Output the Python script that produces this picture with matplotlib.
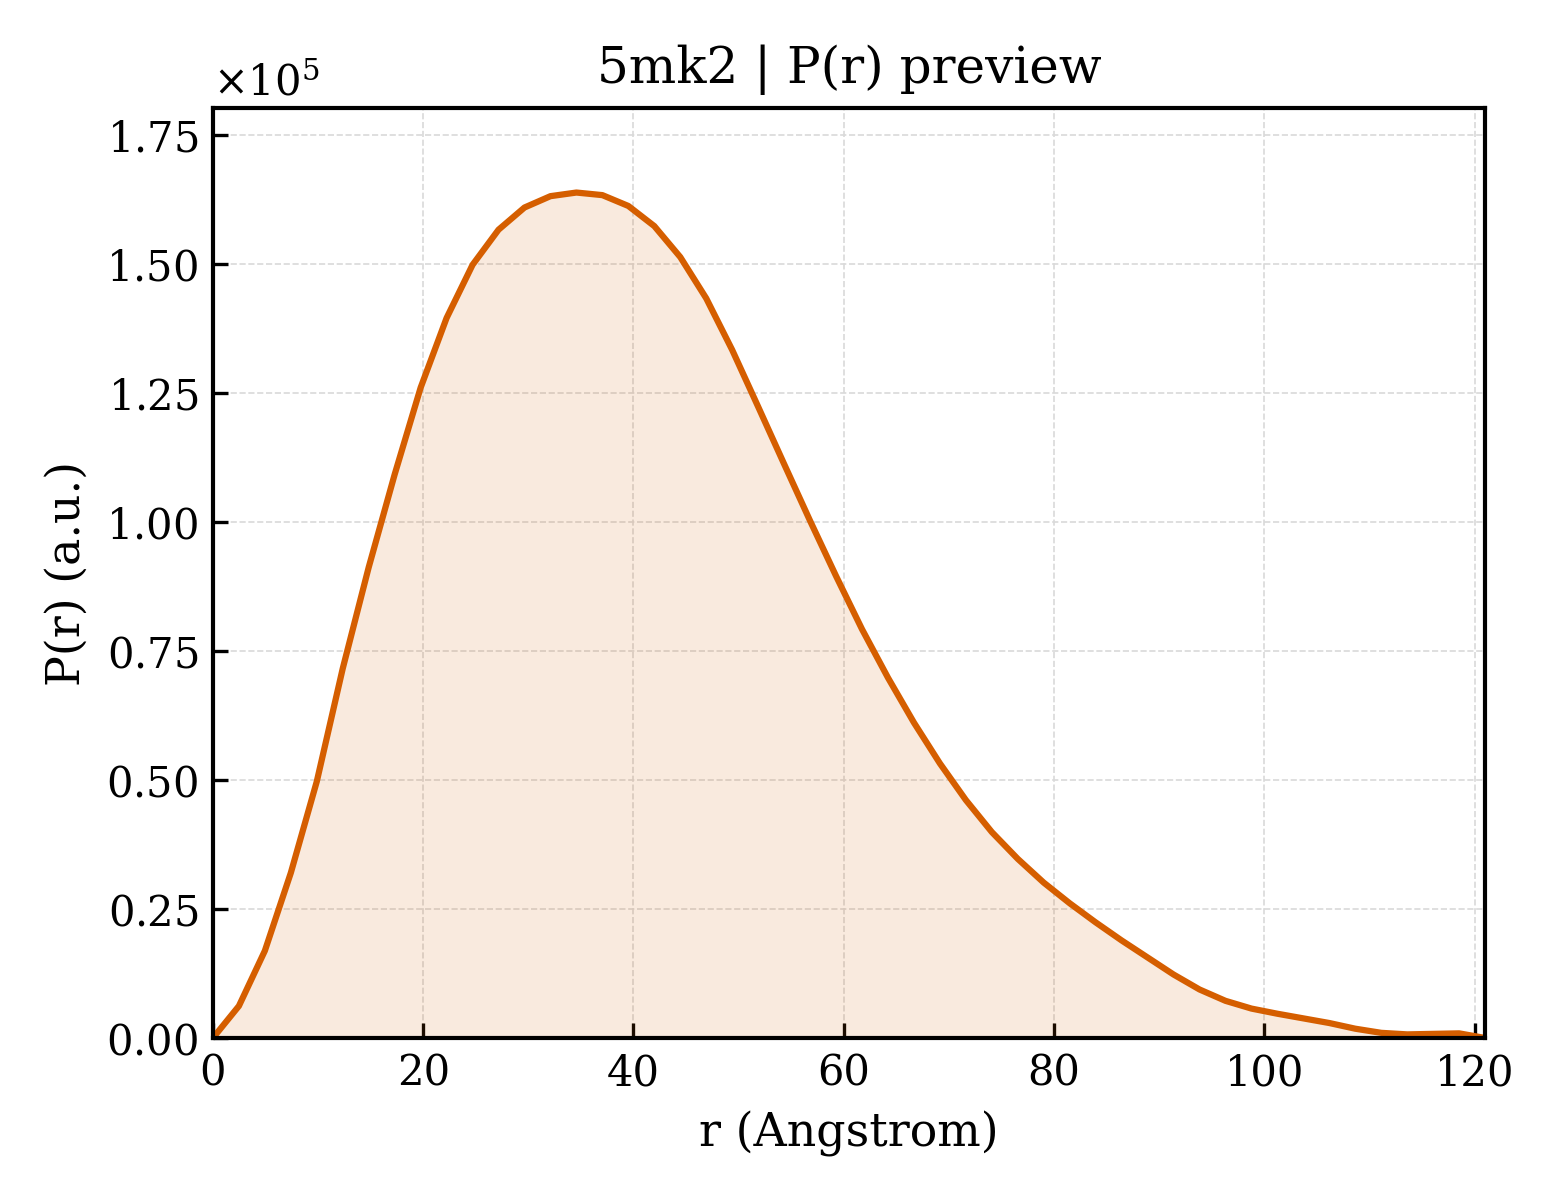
import numpy as np
import matplotlib
matplotlib.use('Agg')
import matplotlib.pyplot as plt
from matplotlib.ticker import ScalarFormatter

# P(r) preview, values (units of 1e5)
dmax = 121.0
n_points = 50
pr_scaled = [0.000, 0.062, 0.169, 0.320, 0.497, 0.716, 0.912, 1.092, 1.260, 1.395,
             1.498, 1.566, 1.609, 1.631, 1.638, 1.633, 1.612, 1.573, 1.513, 1.433,
             1.333, 1.223, 1.112, 1.002, 0.895, 0.792, 0.698, 0.611, 0.532, 0.461,
             0.399, 0.347, 0.301, 0.261, 0.224, 0.189, 0.156, 0.123, 0.094, 0.072,
             0.057, 0.047, 0.038, 0.029, 0.018, 0.010, 0.007, 0.008, 0.009, 0.000]
title = '5mk2 | P(r) preview'

r = np.linspace(0., dmax, n_points)
pr = np.array(pr_scaled) * 1e5

plt.rcParams['font.family'] = 'DejaVu Serif'
plt.rcParams['mathtext.fontset'] = 'dejavuserif'
plt.rcParams['font.size'] = 10
plt.rcParams['axes.linewidth'] = 1.0

color = '#D55E00'
fig, ax = plt.subplots(figsize=(5.2, 4.0), dpi=300)
fig.subplots_adjust(left=0.1365, right=0.952, top=0.91, bottom=0.135)

ax.fill_between(r, pr, 0, color=color, alpha=0.13, lw=0)
ax.plot(r, pr, color=color, lw=1.5)

ax.set_xlim(0, r.max())
ax.set_ylim(0, 1.1*pr.max())
ax.set_xticks(np.arange(0, 121, 20))
ax.set_yticks(np.arange(0, 1.76e5, 0.25e5))

fmt = ScalarFormatter(useMathText=True)
fmt.set_powerlimits((0, 0))
ax.yaxis.set_major_formatter(fmt)

ax.tick_params(direction='in', length=3.5, width=0.8, labelsize=10)
ax.grid(True, ls='--', lw=0.4, color='0.85')
ax.set_axisbelow(True)

ax.set_xlabel('r (Angstrom)', fontsize=11)
ax.set_ylabel('P(r) (a.u.)', fontsize=11)
ax.set_title(title, fontsize=12)

plt.savefig('out.png', dpi=300)
